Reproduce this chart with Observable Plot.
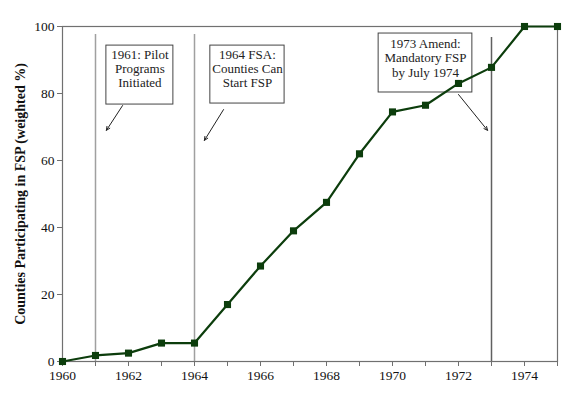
<!DOCTYPE html>
<html>
<head>
<meta charset="utf-8">
<script src="https://cdn.jsdelivr.net/npm/d3@7"></script>
<script src="https://cdn.jsdelivr.net/npm/@observablehq/plot@0.6"></script>
<style>
  html, body { margin: 0; padding: 0; background: #fff; }
  #chart { width: 572px; height: 396px; }
</style>
</head>
<body>
<div id="chart"></div>
<script>
const years = [1960,1961,1962,1963,1964,1965,1966,1967,1968,1969,1970,1971,1972,1973,1974,1975];
const share = [0, 1.8, 2.5, 5.5, 5.5, 17, 28.5, 39, 47.5, 62, 74.5, 76.5, 83, 87.8, 100, 100];

const eventYears = [1961, 1964, 1973];
const eventTop = [97.6, 97.6, 96.7];
const eventColors = ["#a0a0a0", "#a0a0a0", "#606060"];

const boxLabels = ["1961: Pilot\nPrograms\nInitiated", "1964 FSA:\nCounties Can\nStart FSP", "1973 Amend:\nMandatory FSP\nby July 1974"];
const boxX1 = [1961.33, 1964.48, 1969.58];
const boxX2 = [1963.36, 1966.73, 1972.42];
const boxY1 = [76.7, 77.0, 80.3];
const boxY2 = [94.3, 94.3, 97.9];
const labelY = [87.5, 87.5, 90.7];

const arrowX1 = [1961.82, 1964.88, 1972.0];
const arrowY1 = [76.4, 75.2, 79.7];
const arrowX2 = [1961.33, 1964.30, 1972.88];
const arrowY2 = [69.0, 66.0, 69.0];

const xTicks = d3.range(1960, 1976);
const yTicks = [0, 20, 40, 60, 80, 100];

const series = years.map((y, i) => ({year: y, value: share[i]}));
const events = eventYears.map((y, i) => ({year: y, top: eventTop[i], color: eventColors[i]}));
const boxes = boxLabels.map((t, i) => ({
  label: t, x1: boxX1[i], x2: boxX2[i], y1: boxY1[i], y2: boxY2[i],
  cx: (boxX1[i] + boxX2[i]) / 2, cy: labelY[i]
}));
const arrows = arrowX1.map((x, i) => ({x1: x, y1: arrowY1[i], x2: arrowX2[i], y2: arrowY2[i]}));

const green = "#0c3d0c";

const chart = Plot.plot({
  width: 572,
  height: 396,
  marginLeft: 62,
  marginRight: 15,
  marginTop: 26,
  marginBottom: 35,
  style: {fontFamily: "'Liberation Serif', 'Times New Roman', serif", fontSize: "13.5px", color: "#111", background: "#fff"},
  x: {domain: [1960, 1975]},
  y: {domain: [0, 100]},
  marks: [
    Plot.ruleX(events, {x: "year", y1: 0, y2: "top", stroke: "color", strokeWidth: 1.5}),
    Plot.frame({stroke: "#707070", strokeWidth: 1.2}),
    Plot.axisX({ticks: xTicks, tickFormat: d => d % 2 === 0 ? String(d) : "", tickSize: 5, tickPadding: 4, stroke: "#707070", label: null, fontSize: 13.5}),
    Plot.axisY({ticks: yTicks, tickSize: 5, tickPadding: 3, stroke: "#707070", label: null, fontSize: 13.5}),
    Plot.rect(boxes, {x1: "x1", x2: "x2", y1: "y1", y2: "y2", fill: "white", stroke: "#444", strokeWidth: 1}),
    Plot.text(boxes, {x: "cx", y: "cy", text: "label", lineHeight: 1.1, fontSize: 13, fill: "#222", textAnchor: "middle"}),
    Plot.arrow(arrows, {x1: "x1", y1: "y1", x2: "x2", y2: "y2", stroke: "#222", strokeWidth: 1, headLength: 6, headAngle: 50}),
    Plot.line(series, {x: "year", y: "value", stroke: green, strokeWidth: 2.2}),
    Plot.dot(series, {x: "year", y: "value", symbol: "square", r: 4, fill: green, stroke: "none"}),
    Plot.text(["Counties Participating in FSP (weighted %)"], {
      frameAnchor: "left", textAnchor: "middle", dx: -42, rotate: -90, fontWeight: "bold", fontSize: 14, fill: "#111", text: d => d
    })
  ]
});

document.getElementById("chart").appendChild(chart);
</script>
</body>
</html>
